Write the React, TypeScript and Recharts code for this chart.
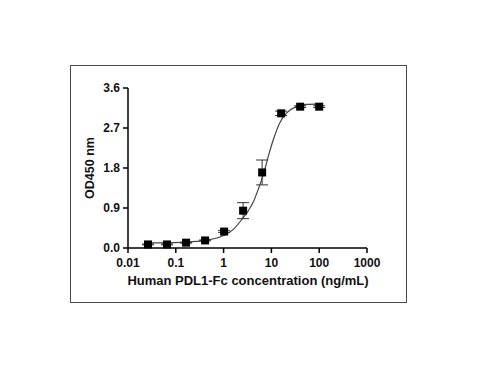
import React from 'react';
import { ComposedChart, Line, Scatter, XAxis, YAxis, ErrorBar } from 'recharts';

// Measured points (concentration in ng/mL, OD450 mean, SD)
const concentrations = [0.0262, 0.0655, 0.164, 0.41, 1.024, 2.56, 6.4, 16, 40, 100];
const odValues = [0.08, 0.08, 0.12, 0.17, 0.37, 0.84, 1.7, 3.03, 3.18, 3.18];
const odErrors = [0.01, 0.01, 0.01, 0.01, 0.02, 0.18, 0.28, 0.05, 0.02, 0.02];

// Fitted curve
const curveX = [0.026, 0.065, 0.16, 0.4, 1, 1.6, 2.56, 3.2, 4.2, 5.3, 6.9, 8.6, 11, 15, 21, 33, 55, 100];
const curveY = [0.115, 0.118, 0.13, 0.17, 0.28, 0.42, 0.68, 0.82, 1.04, 1.32, 1.68, 2.06, 2.44, 2.82, 3.04, 3.18, 3.23, 3.245];

const xTicks = [0.01, 0.1, 1, 10, 100, 1000];
const yTicks = [0, 0.9, 1.8, 2.7, 3.6];

const pointData = concentrations.map((x, i) => ({ x, y: odValues[i], err: odErrors[i] }));
const curveData = curveX.map((x, i) => ({ x, y: curveY[i] }));

const FONT = '"Liberation Sans", Arial, Helvetica, sans-serif';

const Square = (props: any) => {
  const { cx, cy } = props;
  if (cx == null || cy == null) return null;
  return <rect x={cx - 4} y={cy - 4} width={8} height={8} fill="#000" />;
};

const fmtX = (v: number) => String(v);
const fmtY = (v: number) => v.toFixed(1);

export default function App() {
  return (
    <div style={{ position: 'absolute', left: 0, top: 0, width: 482, height: 373, background: '#fff' }}>
      <div
        style={{
          position: 'absolute',
          left: 70,
          top: 65,
          width: 337,
          height: 238,
          border: '1px solid #4a4a4a',
          boxSizing: 'border-box',
        }}
      />
      <div style={{ position: 'absolute', left: 0, top: 0 }}>
        <ComposedChart
          width={482}
          height={373}
          margin={{ top: 88, right: 115, bottom: 95, left: 68 }}
        >
          <XAxis
            type="number"
            dataKey="x"
            scale="log"
            domain={[0.01, 1000]}
            allowDataOverflow
            ticks={xTicks}
            tickFormatter={fmtX}
            height={30}
            tickSize={5}
            tickMargin={5}
            axisLine={{ stroke: '#000', strokeWidth: 1.5 }}
            tickLine={{ stroke: '#000', strokeWidth: 1.5 }}
            tick={{ fontSize: 12, fontWeight: 700, fill: '#111', fontFamily: FONT }}
            interval={0}
          />
          <YAxis
            type="number"
            dataKey="y"
            domain={[0, 3.6]}
            ticks={yTicks}
            tickFormatter={fmtY}
            width={60}
            tickSize={5}
            tickMargin={3}
            axisLine={{ stroke: '#000', strokeWidth: 1.5 }}
            tickLine={{ stroke: '#000', strokeWidth: 1.5 }}
            tick={{ fontSize: 12, fontWeight: 700, fill: '#111', fontFamily: FONT }}
            interval={0}
          />
          <Line
            data={curveData}
            dataKey="y"
            type="monotone"
            stroke="#444"
            strokeWidth={1.2}
            dot={false}
            activeDot={false}
            isAnimationActive={false}
          />
          <Scatter data={pointData} dataKey="y" shape={Square} isAnimationActive={false}>
            <ErrorBar dataKey="err" direction="y" width={6} stroke="#333" strokeWidth={1} />
          </Scatter>
          <text
            x={248}
            y={285}
            textAnchor="middle"
            fontFamily={FONT}
            fontSize={13}
            fontWeight={700}
            fill="#111"
          >
            Human PDL1-Fc concentration (ng/mL)
          </text>
          <text
            transform="translate(94,168) rotate(-90)"
            textAnchor="middle"
            fontFamily={FONT}
            fontSize={12.5}
            fontWeight={700}
            fill="#111"
          >
            OD450 nm
          </text>
        </ComposedChart>
      </div>
    </div>
  );
}
